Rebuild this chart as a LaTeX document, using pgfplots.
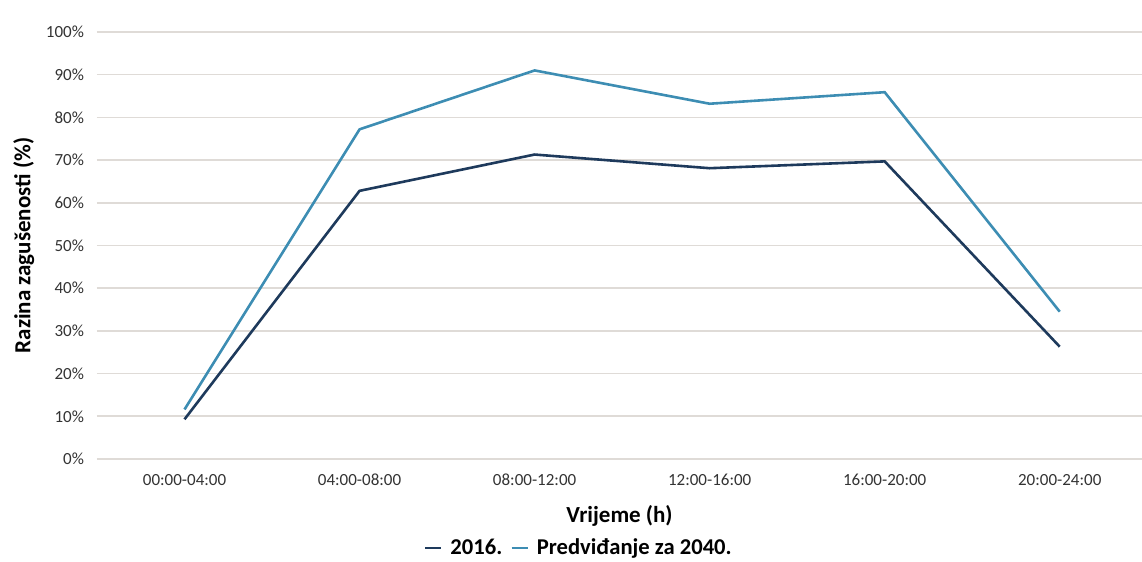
\documentclass[border=0pt]{standalone}
\usepackage{pgfplots}
\pgfplotsset{compat=1.18}
\usepackage{fontspec}
\setmainfont{Carlito}

\definecolor{c2016}{HTML}{1E3A5C}
\definecolor{c2040}{HTML}{3D8DB3}
\definecolor{gridc}{HTML}{DFDBD7}

\begin{document}
\begin{tikzpicture}[x=0.5pt,y=0.5pt]
\path[use as bounding box] (-97,-103) rectangle (1045,459);
\begin{axis}[
    at={(0,0)}, anchor=south west,
    scale only axis,
    width=522.5pt, height=213.5pt,
    xmin=-0.5, xmax=5.47,
    ymin=0, ymax=100,
    xtick={0,1,2,3,4,5},
    xticklabels={00:00-04:00,04:00-08:00,08:00-12:00,12:00-16:00,16:00-20:00,20:00-24:00},
    ytick={0,10,...,100},
    yticklabel={\pgfmathprintnumber{\tick}\%},
    /pgf/number format/assume math mode=true,
    ticklabel style={font=\fontsize{8.5}{10}\selectfont, text=black!80},
    yticklabel style={xshift=-3pt},
    xticklabel style={yshift=-4pt},
    axis line style={draw=none},
    major tick length=0pt,
    ymajorgrids,
    grid style={gridc, line width=0.8pt},
    xlabel={\textbf{Vrijeme (h)}},
    ylabel={\textbf{Razina zagušenosti (\%)}},
    label style={font=\fontsize{11.5}{13}\selectfont},
    xlabel style={yshift=-3pt},
    ylabel style={yshift=-1pt},
    legend style={draw=none, at={(0.462,-0.208)}, anchor=center,
        legend columns=2, font=\fontsize{11.3}{13}\selectfont\bfseries,
        column sep=2pt, /tikz/every even column/.append style={column sep=2pt}},
    legend image code/.code={\draw[#1, line width=1.3pt] (0pt,0pt) -- (8pt,0pt);},
]
\addplot[c2016, line width=1.3pt] coordinates {
(0,9.3) (1,62.8) (2,71.3) (3,68.1) (4,69.7) (5,26.3)
};
\addlegendentry{2016.}
\addplot[c2040, line width=1.3pt] coordinates {
(0,11.6) (1,77.2) (2,91.0) (3,83.2) (4,85.9) (5,34.5)
};
\addlegendentry{Predviđanje za 2040.}
\end{axis}
\end{tikzpicture}
\end{document}
